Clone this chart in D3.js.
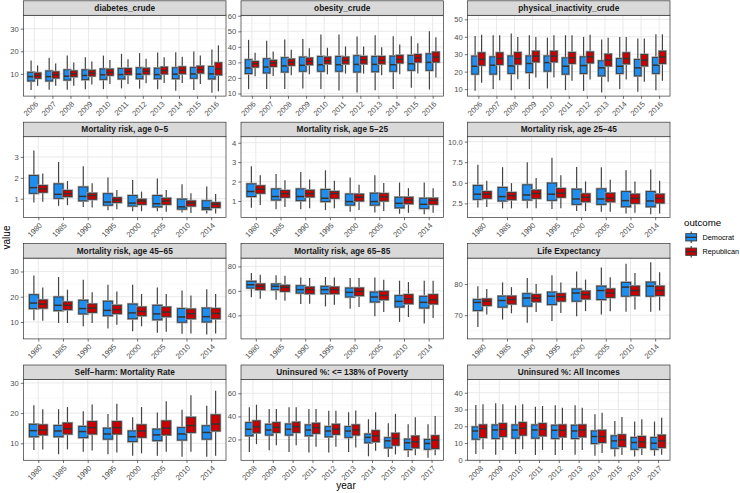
<!DOCTYPE html>
<html>
<head>
<meta charset="utf-8">
<script src="https://cdn.jsdelivr.net/npm/d3@7"></script>
<style>
  body { margin: 0; background: #fff; }
  svg { display: block; font-family: "Liberation Sans", Arial, sans-serif; }
</style>
</head>
<body>
<svg id="chart" width="740" height="493"></svg>
<script>
const yearsA = [2006, 2007, 2008, 2009, 2010, 2011, 2012, 2013, 2014, 2015, 2016];
const yearsB = [1980, 1985, 1990, 1995, 2000, 2005, 2010, 2014];
const yearsC = [2008, 2009, 2010, 2011, 2012, 2013, 2014, 2015, 2016, 2017];
const outcomes = ["Democrat", "Republican"];
const outcomeColors = ["#1E8FF0", "#CC0000"];

// each row: [lower whisker, q1, median, q3, upper whisker]
const diabetesDem = [[2.9,6.9,8.8,10.7,15.9],[3.0,6.9,8.8,11.3,17.1],[3.0,7.3,9.0,11.8,18.1],[3.2,7.5,9.3,11.8,17.4],[3.3,7.6,9.6,12.2,18.1],[3.6,7.8,9.7,12.4,18.9],[3.5,7.9,9.9,12.7,19.2],[3.2,7.9,9.7,12.5,19.5],[2.6,7.9,9.9,12.7,19.6],[2.9,8.1,10.0,12.8,19.9],[1.7,7.8,10.0,13.3,20.8]];
const diabetesRep = [[4.8,8.1,9.3,10.4,13.7],[4.8,8.2,9.7,10.9,14.6],[4.8,8.8,10.1,11.3,15.0],[5.3,9.1,10.4,11.6,15.5],[5.6,9.4,10.7,12.1,16.2],[5.6,9.7,11.0,12.4,16.5],[5.9,9.9,11.2,12.5,16.7],[6.0,10.0,11.5,13.0,17.4],[6.0,10.1,11.6,13.1,17.6],[5.6,10.4,11.9,13.4,18.1],[2.3,9.6,12.2,14.9,22.6]];

const obesityDem = [[12.8,22.8,26.4,31.7,44.5],[12.8,23.2,27.0,32.3,44.0],[12.8,23.8,27.7,33.0,44.7],[13.2,24.3,28.1,33.4,45.1],[12.8,24.3,28.5,33.8,47.9],[11.9,24.3,28.5,33.8,47.9],[10.6,23.8,28.7,34.3,46.6],[12.1,24.0,28.7,33.8,47.4],[12.8,24.3,28.5,34.0,46.8],[13.6,24.9,29.1,34.5,46.8],[12.6,24.9,30.0,35.5,50.0]];
const obesityRep = [[21.1,27.0,29.1,30.6,36.2],[21.3,27.4,29.6,31.3,37.0],[21.7,28.1,30.0,32.1,38.1],[22.3,28.5,30.6,32.8,39.1],[22.3,29.1,31.1,33.4,39.4],[22.8,29.1,31.3,33.4,40.2],[22.8,29.1,31.7,33.8,40.2],[21.7,29.1,31.3,33.8,39.8],[22.3,29.6,31.9,34.5,41.5],[22.8,30.2,32.8,35.1,42.3],[20.2,30.2,33.4,36.6,46.2]];

const inactivityDem = [[9.0,18.6,23.1,28.9,40.5],[10.0,18.6,23.7,28.5,40.9],[9.4,19.0,23.3,29.0,41.8],[10.0,19.5,24.7,29.0,40.9],[10.4,20.3,25.2,29.0,39.5],[9.4,18.6,23.1,27.9,40.9],[9.0,19.0,23.5,28.5,39.9],[8.1,17.6,22.2,26.2,38.4],[10.0,19.0,23.1,27.5,39.9],[8.5,17.6,22.2,27.0,39.0],[9.4,19.0,23.7,28.1,41.4]];
const inactivityRep = [[13.6,23.7,27.0,30.8,41.2],[15.1,24.1,27.5,30.8,40.9],[15.7,24.3,27.5,31.0,39.9],[16.7,25.6,28.9,31.7,39.9],[16.7,25.6,28.9,31.7,40.9],[14.8,24.7,27.9,31.0,40.9],[15.5,25.0,28.5,31.3,41.2],[14.2,23.3,26.6,30.0,39.5],[15.5,24.5,27.5,30.8,39.9],[14.2,23.3,26.6,29.8,39.0],[14.8,24.7,28.5,31.7,41.4]];

const mort05Dem = [[0.82,1.26,1.53,2.11,3.31],[0.66,1.02,1.21,1.71,2.76],[0.60,0.90,1.11,1.56,2.55],[0.45,0.69,0.84,1.24,2.02],[0.40,0.65,0.79,1.15,1.90],[0.40,0.61,0.76,1.15,1.97],[0.34,0.50,0.61,0.98,1.69],[0.29,0.48,0.56,0.90,1.58]];
const mort05Rep = [[0.85,1.31,1.47,1.63,2.21],[0.69,1.10,1.24,1.39,1.85],[0.58,0.97,1.15,1.26,1.74],[0.50,0.82,0.94,1.05,1.42],[0.40,0.73,0.89,0.97,1.34],[0.37,0.73,0.89,1.02,1.42],[0.32,0.65,0.79,0.89,1.26],[0.29,0.58,0.73,0.81,1.23]];

const mort525Dem = [[0.65,1.23,1.49,1.88,2.79],[0.58,1.05,1.23,1.62,2.39],[0.58,1.02,1.23,1.62,2.49],[0.53,0.97,1.14,1.59,2.58],[0.45,0.79,0.97,1.36,2.21],[0.41,0.79,0.97,1.40,2.32],[0.34,0.65,0.88,1.19,1.95],[0.32,0.62,0.83,1.14,1.95]];
const mort525Rep = [[0.79,1.40,1.61,1.78,2.32],[0.69,1.19,1.38,1.54,2.07],[0.62,1.21,1.38,1.55,2.11],[0.62,1.14,1.38,1.49,2.04],[0.53,1.00,1.19,1.35,1.83],[0.48,1.00,1.21,1.38,1.92],[0.39,0.86,1.05,1.19,1.66],[0.39,0.83,1.03,1.14,1.66]];

const mort2545Dem = [[2.01,2.99,3.61,4.67,7.2],[1.89,2.79,3.32,4.43,6.89],[1.89,2.91,3.52,4.75,7.5],[1.80,2.87,3.61,4.96,8.03],[1.56,2.38,3.03,4.22,6.93],[1.48,2.38,3.03,4.26,6.89],[1.27,2.09,2.83,3.93,6.52],[1.19,2.09,2.79,3.93,6.60]];
const mort2545Rep = [[2.05,3.11,3.61,3.93,5.25],[1.89,2.95,3.44,3.81,4.96],[1.89,3.11,3.69,4.10,5.57],[1.89,3.24,3.73,4.30,5.90],[1.56,2.70,3.24,3.65,5.16],[1.48,2.70,3.11,3.73,5.37],[1.35,2.50,3.11,3.61,5.16],[1.27,2.54,3.11,3.61,5.25]];

const mort4565Dem = [[10.7,15.3,17.5,20.8,28.4],[9.6,14.5,16.6,19.9,27.8],[8.3,13.2,15.3,18.6,26.7],[7.4,12.5,14.6,18.2,24.7],[6.3,11.3,13.6,17.1,24.7],[5.7,10.9,13.2,16.6,23.7],[5.3,9.9,12.0,15.3,22.5],[5.0,10.0,12.1,15.5,23.0]];
const mort4565Rep = [[10.5,15.5,17.1,18.7,23.7],[9.6,14.9,16.6,17.9,22.8],[9.6,13.8,15.5,17.1,21.8],[8.9,13.3,14.9,16.6,22.1],[8.3,12.5,14.2,15.9,21.1],[6.1,12.1,13.9,15.9,21.1],[5.4,11.3,13.3,15.1,20.5],[5.4,11.3,13.4,15.3,21.1]];

const mort6585Dem = [[54.7,62.3,65.0,67.8,74.6],[52.8,61.0,63.7,65.6,72.7],[49.3,58.2,61.0,64.2,71.0],[47.3,57.7,61.0,63.7,71.3],[45.4,55.0,58.8,62.3,70.5],[39.2,50.9,55.0,59.0,71.0],[34.6,46.8,51.4,56.1,68.3],[33.2,46.0,50.6,55.5,68.3]];
const mort6585Rep = [[53.6,61.0,63.7,65.6,73.2],[52.0,59.6,62.9,64.5,72.4],[49.5,57.7,61.0,63.1,70.5],[48.7,57.7,61.0,63.1,71.0],[46.8,56.1,59.6,62.3,70.5],[42.7,52.8,56.3,59.6,69.1],[38.6,49.5,53.6,56.9,67.2],[37.8,49.3,52.8,56.9,68.3]];

const lifeDem = [[66.2,71.5,74.1,75.0,79.3],[68.6,72.6,74.7,76.1,80.5],[67.6,72.9,75.5,76.9,81.9],[68.1,73.4,76.1,77.4,82.8],[69.7,74.5,77.1,78.4,84.0],[70.2,75.0,77.9,79.3,85.3],[71.1,76.1,79.0,80.5,86.5],[71.1,76.1,79.3,80.6,87.0]];
const lifeRep = [[70.2,73.1,74.5,75.2,78.4],[70.6,73.6,75.0,76.1,79.0],[71.0,74.3,75.5,76.6,80.0],[70.7,74.5,75.9,76.9,80.5],[71.3,75.2,76.6,77.7,81.4],[71.3,75.7,77.1,78.4,82.2],[71.8,76.3,77.9,79.3,83.5],[71.5,76.3,77.9,79.3,83.8]];

const selfHarmDem = [[7.8,12.2,14.2,16.3,22.6],[6.4,12.2,14.1,15.9,21.3],[7.2,11.9,13.9,15.6,20.6],[6.4,11.4,13.1,15.0,19.7],[5.9,10.6,12.2,14.1,18.6],[5.9,10.9,12.8,14.7,20.2],[5.6,11.1,13.1,15.2,21.1],[5.6,11.4,13.6,15.8,22.4]];
const selfHarmRep = [[8.0,12.8,14.4,16.1,21.3],[8.0,13.1,14.8,16.7,22.0],[7.6,13.1,15.2,17.2,22.8],[7.0,13.1,15.2,17.2,23.1],[6.7,12.0,14.1,16.1,22.0],[7.2,12.8,15.0,17.4,23.9],[7.2,13.6,15.9,18.6,25.9],[5.9,14.1,16.4,19.4,27.4]];

const unins138Dem = [[9.2,23.2,28.8,34.6,48.0],[10.7,23.8,28.2,33.1,46.3],[9.2,23.8,28.8,33.4,48.0],[8.6,23.2,28.2,32.6,46.3],[8.6,22.3,27.3,31.1,44.8],[9.2,21.8,27.3,31.1,43.6],[5.4,17.1,21.8,24.7,37.5],[4.8,12.7,18.8,21.5,34.0],[4.8,11.2,17.1,20.3,33.1],[4.2,11.5,16.5,20.0,33.1]];
const unins138Rep = [[15.9,25.8,31.1,36.1,50.1],[15.0,26.1,30.5,34.6,46.3],[15.0,26.1,31.1,34.9,48.0],[13.6,25.3,30.2,34.0,46.3],[13.6,24.4,28.8,33.1,44.8],[13.0,23.8,28.2,32.6,45.1],[10.1,18.0,23.2,27.6,43.6],[6.9,15.0,20.9,25.3,42.2],[6.3,12.7,18.0,22.9,39.3],[6.3,12.1,19.4,23.2,40.4]];

const uninsAllDem = [[3.4,12.3,17.2,19.6,32.7],[3.0,12.7,17.8,20.8,33.7],[3.4,12.9,17.8,20.8,32.5],[2.8,12.9,17.8,20.8,31.7],[2.8,12.7,17.6,20.6,32.5],[3.0,12.7,17.2,20.6,32.5],[2.4,9.7,13.9,17.2,27.1],[2.0,6.9,11.3,14.3,23.2],[2.0,6.3,10.3,13.3,22.8],[2.4,6.3,9.9,13.3,22.8]];
const uninsAllRep = [[6.3,13.3,18.6,20.8,33.1],[5.9,13.9,18.2,21.6,33.1],[6.3,14.7,18.8,22.2,33.1],[5.9,14.3,18.2,21.6,32.1],[5.9,13.7,17.6,20.8,31.1],[5.9,13.7,17.8,20.8,31.1],[4.0,10.3,13.9,17.6,28.1],[2.8,7.9,11.9,14.9,25.5],[2.8,7.3,10.7,13.9,24.2],[3.0,7.3,11.3,14.7,25.1]];

// facet table built from the arrays above (y limits and breaks per free scale)
const panels = [
  { title: "diabetes_crude", years: yearsA, dem: diabetesDem, rep: diabetesRep, domain: [0.2, 35.9], ticks: [10, 20, 30] },
  { title: "obesity_crude", years: yearsA, dem: obesityDem, rep: obesityRep, domain: [8.3, 60.3], ticks: [10, 20, 30, 40, 50, 60] },
  { title: "physical_inactivity_crude", years: yearsA, dem: inactivityDem, rep: inactivityRep, domain: [6.0, 52.3], ticks: [10, 20, 30, 40, 50] },
  { title: "Mortality risk, age 0\u22125", years: yearsB, dem: mort05Dem, rep: mort05Rep, domain: [0.10, 3.97], ticks: [1, 2, 3] },
  { title: "Mortality risk, age 5\u221225", years: yearsB, dem: mort525Dem, rep: mort525Rep, domain: [0.15, 4.31], ticks: [1, 2, 3, 4] },
  { title: "Mortality risk, age 25\u221245", years: yearsB, dem: mort2545Dem, rep: mort2545Rep, domain: [0.78, 10.6], ticks: [2.5, 5, 7.5, 10], fmt: ".1f" },
  { title: "Mortality risk, age 45\u221265", years: yearsB, dem: mort4565Dem, rep: mort4565Rep, domain: [3.3, 35.3], ticks: [10, 20, 30] },
  { title: "Mortality risk, age 65\u221285", years: yearsB, dem: mort6585Dem, rep: mort6585Rep, domain: [20.7, 86.8], ticks: [40, 60, 80] },
  { title: "Life Expectancy", years: yearsB, dem: lifeDem, rep: lifeRep, domain: [62.4, 88.3], ticks: [70, 80] },
  { title: "Self\u2212harm: Mortality Rate", years: yearsB, dem: selfHarmDem, rep: selfHarmRep, domain: [4.4, 31.1], ticks: [10, 20, 30] },
  { title: "Uninsured %: <= 138% of Poverty", years: yearsC, dem: unins138Dem, rep: unins138Rep, domain: [1.9, 72.0], ticks: [20, 40, 60] },
  { title: "Uninsured %: All Incomes", years: yearsC, dem: uninsAllDem, rep: uninsAllRep, domain: [-0.3, 47.9], ticks: [0, 10, 20, 30, 40] }
];

const svg = d3.select("#chart");
const colLeft = [23.5, 241, 467.5];
const panelW = 202.5;
const stripH = 14.5;
const panelH = 80.8;
const rowTop = r => 0.8 + r * 121.4;

const color = d3.scaleOrdinal().domain(outcomes).range(outcomeColors);

function drawBox(g, cx, w, s, y, fill) {
  g.append("line")
    .attr("x1", cx).attr("x2", cx)
    .attr("y1", y(s[4])).attr("y2", y(s[0]))
    .attr("stroke", "#444").attr("stroke-width", 1.2);
  g.append("rect")
    .attr("x", cx - w / 2).attr("y", y(s[3]))
    .attr("width", w).attr("height", y(s[1]) - y(s[3]))
    .attr("fill", "none").attr("stroke", "#9e9e9e").attr("stroke-width", 2.4);
  g.append("rect")
    .attr("x", cx - w / 2).attr("y", y(s[3]))
    .attr("width", w).attr("height", y(s[1]) - y(s[3]))
    .attr("fill", fill).attr("stroke", "#3a3a3a").attr("stroke-width", 0.9);
  g.append("line")
    .attr("x1", cx - w / 2).attr("x2", cx + w / 2)
    .attr("y1", y(s[2])).attr("y2", y(s[2]))
    .attr("stroke", "#333").attr("stroke-width", 1.5);
}

panels.forEach((p, i) => {
  const col = i % 3, row = Math.floor(i / 3);
  const left = colLeft[col];
  const top = rowTop(row);
  const pTop = top + stripH;
  const g = svg.append("g").attr("transform", `translate(${left},${pTop})`);

  const x = d3.scalePoint().domain(p.years).range([0, panelW]).padding(0.6);
  const y = d3.scaleLinear().domain(p.domain).range([panelH, 0]);
  const step = x.step();

  // strip
  svg.append("rect")
    .attr("x", left).attr("y", top).attr("width", panelW).attr("height", stripH)
    .attr("fill", "#d9d9d9").attr("stroke", "#333").attr("stroke-width", 0.7);
  svg.append("text")
    .attr("x", left + panelW / 2).attr("y", top + stripH / 2 + 3)
    .attr("text-anchor", "middle").attr("font-size", 8.3).attr("font-weight", "bold")
    .attr("fill", "#1a1a1a").text(p.title);

  // grid
  const st = p.ticks[1] - p.ticks[0];
  const minors = d3.range(p.ticks[0] - st / 2, p.ticks[p.ticks.length - 1] + st, st)
    .filter(v => v > p.domain[0] && v < p.domain[1]);
  g.selectAll(".minor").data(minors).enter().append("line")
    .attr("x1", 0).attr("x2", panelW).attr("y1", d => y(d)).attr("y2", d => y(d))
    .attr("stroke", "#f0f0f0").attr("stroke-width", 0.5);
  g.selectAll(".majorY").data(p.ticks).enter().append("line")
    .attr("x1", 0).attr("x2", panelW).attr("y1", d => y(d)).attr("y2", d => y(d))
    .attr("stroke", "#e6e6e6").attr("stroke-width", 0.9);
  g.selectAll(".majorX").data(p.years).enter().append("line")
    .attr("x1", d => x(d)).attr("x2", d => x(d)).attr("y1", 0).attr("y2", panelH)
    .attr("stroke", "#e6e6e6").attr("stroke-width", 0.9);

  // boxes
  const bw = 0.36 * step;
  p.years.forEach((yr, k) => {
    drawBox(g, x(yr) - 0.18 * step, bw, p.dem[k], y, color("Democrat"));
    drawBox(g, x(yr) + 0.18 * step, bw, p.rep[k], y, color("Republican"));
  });

  // border
  g.append("rect").attr("width", panelW).attr("height", panelH)
    .attr("fill", "none").attr("stroke", "#333").attr("stroke-width", 0.7);

  // y axis
  const fmt = p.fmt ? d3.format(p.fmt) : d3.format("");
  const ya = g.append("g")
    .call(d3.axisLeft(y).tickValues(p.ticks).tickFormat(fmt).tickSize(2.7).tickPadding(2));
  ya.select(".domain").remove();
  ya.selectAll("line").attr("stroke", "#333").attr("stroke-width", 0.7);
  ya.selectAll("text").attr("font-size", 7.6).attr("fill", "#4d4d4d")
    .attr("font-family", "Liberation Sans, Arial, sans-serif");

  // x axis
  const xa = g.append("g").attr("transform", `translate(0,${panelH})`)
    .call(d3.axisBottom(x).tickSize(2.7).tickFormat(d3.format("d")));
  xa.select(".domain").remove();
  xa.selectAll("line").attr("stroke", "#333").attr("stroke-width", 0.7);
  xa.selectAll("text")
    .attr("font-size", 7.6).attr("fill", "#4d4d4d")
    .attr("font-family", "Liberation Sans, Arial, sans-serif")
    .attr("text-anchor", "end")
    .attr("y", 0).attr("dy", 0)
    .attr("transform", "translate(3.8,8.4) rotate(-45)");
});

// axis titles
svg.append("text").attr("x", 346).attr("y", 488.5).attr("text-anchor", "middle")
  .attr("font-size", 10).attr("fill", "#000").text("year");
svg.append("text").attr("transform", "translate(9.5,237.5) rotate(-90)")
  .attr("text-anchor", "middle").attr("font-size", 10).attr("fill", "#000").text("value");

// legend
const leg = svg.append("g").attr("transform", "translate(684,0)");
leg.append("text").attr("x", 0).attr("y", 225.5).attr("font-size", 9.7).text("outcome");
const keyY = d3.scalePoint().domain(outcomes).range([237.3, 251.7]);
outcomes.forEach(o => {
  const cy = keyY(o);
  const kg = leg.append("g");
  kg.append("line").attr("x1", 7.2).attr("x2", 7.2).attr("y1", cy - 5.8).attr("y2", cy + 5.8)
    .attr("stroke", "#444").attr("stroke-width", 1.2);
  kg.append("rect").attr("x", 1.8).attr("y", cy - 3.6).attr("width", 10.8).attr("height", 7.2)
    .attr("fill", color(o)).attr("stroke", "#3a3a3a").attr("stroke-width", 1);
  kg.append("line").attr("x1", 1.8).attr("x2", 12.6).attr("y1", cy).attr("y2", cy)
    .attr("stroke", "#333").attr("stroke-width", 1.4);
  leg.append("text").attr("x", 18.5).attr("y", cy + 2.6).attr("font-size", 7.3).attr("fill", "#000").text(o);
});
</script>
</body>
</html>
